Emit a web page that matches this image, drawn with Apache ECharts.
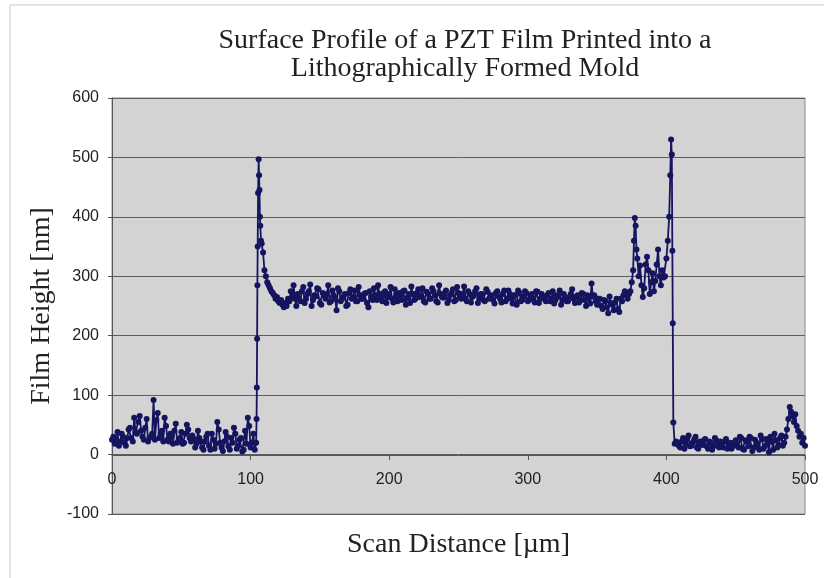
<!DOCTYPE html>
<html>
<head>
<meta charset="utf-8">
<script src="https://cdn.jsdelivr.net/npm/echarts@6/dist/echarts.min.js"></script>
<style>
html,body{margin:0;padding:0;background:#fff;}
#chart{width:824px;height:578px;}
</style>
</head>
<body>
<div id="chart"></div>
<script>
// ---- Data (Scan Distance [µm], Film Height [nm]) ----
const leftX = [0,2,4,6,8,10,12,14,16,18,20,22,24,26,28,30,32,34,36,38,40,42,44,46,48,50,52,54,56,58,60,62,64,66,68,70,72,74,76,78,80,82,84,86,88,90,92,94,96,98,100,102,103,104];
const leftY = [25,18,38,22,30,15,42,28,62,35,65,30,45,22,30,92,58,28,40,62,25,35,18,52,24,38,20,50,28,32,12,40,22,8,30,15,35,10,55,20,6,38,14,28,45,10,25,5,40,62,12,35,8,20];
const leftOddX = [1,3,5,7,9,11,13,15,17,19,21,23,25,27,29,31,33,35,37,39,41,43,45,47,49,51,53,55,57,59,61,63,65,67,69,71,73,75,77,79,81,83,85,87,89,91,93,95,97,99,101];
const leftOddY = [30,22,15,35,20,28,45,22,38,55,40,25,60,28,35,25,70,35,22,48,22,30,40,20,28,18,35,42,22,26,18,28,12,22,35,8,25,18,42,12,22,30,8,20,35,15,28,8,18,48,20];

const edgeX = [104.3,104.5,104.7,104.9,105.1,105.4,105.8,106.1,106.4,106.7,107,107.5,108,109,110,111,112,113,114,115,116,117,118,119,120,121,122,123,124,125,126,127,128,129,130,131];
const edgeY = [60,113,195,285,350,440,497,470,445,400,385,360,355,340,310,300,290,285,280,275,272,268,262,265,258,255,260,252,248,255,250,262,258,275,265,285,262];

const plateauX = [132,134,136,138,140,142,144,146,148,150,152,154,156,158,160,162,164,166,168,170,172,174,176,178,180,182,184,186,188,190,192,194,196,198,200,202,204,206,208,210,212,214,216,218,220,222,224,226,228,230,232,234,236,238,240,242,244,246,248,250,252,254,256,258,260,262,264,266,268,270,272,274,276,278,280,282,284,286,288,290,292,294,296,298,300,302,304,306,308,310,312,314,316,318,320,322,324,326,328,330,332,334,336,338,340,342,344,346,348,350,352,354,356,358,360,362,364,366,368,370];
const plateauY = [270,258,282,262,275,250,268,280,255,272,262,285,258,268,243,275,262,270,252,278,265,258,282,262,270,255,275,260,268,285,262,272,255,270,262,278,258,268,275,252,270,283,260,272,265,280,256,270,262,275,258,285,265,272,255,268,278,260,272,262,283,258,270,265,275,255,270,260,278,262,268,254,275,262,270,258,276,262,268,252,272,260,275,258,268,262,275,255,270,262,268,258,275,260,266,252,270,258,265,278,255,268,260,270,250,263,288,268,252,262,245,258,238,255,243,262,240,258,275,250];
const plateauOddX = [133,135,137,139,141,143,145,147,149,151,153,155,157,159,161,163,165,167,169,171,173,175,177,179,181,183,185,187,189,191,193,195,197,199,201,203,205,207,209,211,213,215,217,219,221,223,225,227,229,231,233,235,237,239,241,243,245,247,249,251,253,255,257,259,261,263,265,267,269,271,273,275,277,279,281,283,285,287,289,291,293,295,297,299,301,303,305,307,309,311,313,315,317,319,321,323,325,327,329,331,333,335,337,339,341,343,345,347,349,351,353,355,357,359,361,363,365,367,369];
const plateauOddY = [262,275,255,270,286,260,266,278,252,268,270,256,276,262,280,258,266,250,272,262,276,258,268,262,272,248,266,280,260,270,258,275,265,282,256,266,272,260,276,264,255,270,262,278,266,258,274,262,280,268,256,270,264,276,260,272,258,282,266,270,262,275,256,268,280,262,270,258,274,264,260,272,266,256,276,262,270,254,268,276,258,266,272,260,270,256,274,262,266,258,272,262,254,268,276,260,264,258,270,262,266,256,272,260,268,254,266,258,262,250,260,248,266,252,256,245,262,268,272];

const ridgeX = [371,372,373,374,375,376,376.6,377.2,377.8,378.4,379,380,381,382,383,384,385,386,387,388,389,390,391,392,393,394,395,396,397,398,399,400,401,402,402.8,403.4,403.9,404.3,404.6,405];
const ridgeY = [262,270,275,290,310,360,398,385,345,330,300,318,285,265,280,320,333,310,270,290,305,275,292,320,345,300,285,310,298,300,330,360,400,470,530,505,343,221,54,18];

const rightX = [406,408,410,412,414,416,418,420,422,424,426,428,430,432,434,436,438,440,442,444,446,448,450,452,454,456,458,460,462,464,466,468,470,472,474,476,478,480,482,484,486,487,488,489,490,491,492,493,494,495,496,497,498,499,500];
const rightY = [20,12,28,18,32,15,25,12,22,16,26,10,20,14,24,12,18,22,10,20,14,24,12,28,8,22,30,6,25,12,32,10,26,4,22,35,12,28,15,30,42,60,80,72,65,55,68,48,40,30,35,20,28,15,22];
const rightOddX = [407,409,411,413,415,417,419,421,423,425,427,429,431,433,435,437,439,441,443,445,447,449,451,453,455,457,459,461,463,465,467,469,471,473,475,477,479,481,483,485];
const rightOddY = [15,22,10,26,14,20,30,10,18,24,14,22,8,28,16,22,12,26,18,10,20,16,30,10,24,14,28,12,20,8,26,14,22,30,8,24,16,32,20,26];

const xTicks = [0,100,200,300,400,500];
const yTicks = [-100,0,100,200,300,400,500,600];

const xs = [].concat(leftX, leftOddX, edgeX, plateauX, plateauOddX, ridgeX, rightX, rightOddX);
const ys = [].concat(leftY, leftOddY, edgeY, plateauY, plateauOddY, ridgeY, rightY, rightOddY);
const points = xs.map((x, i) => [x, ys[i]]).sort((a, b) => a[0] - b[0]);

const chart = echarts.init(document.getElementById('chart'), null, {renderer: 'canvas'});
const serif = '"Liberation Serif", "Times New Roman", serif';
const sans = '"Liberation Sans", Arial, sans-serif';

chart.setOption({
  animation: false,
  backgroundColor: '#ffffff',
  title: {
    text: 'Surface Profile of a PZT Film Printed into a\nLithographically Formed Mold',
    left: 460, top: 22, textAlign: 'center',
    textStyle: {fontFamily: serif, fontSize: 28, fontWeight: 'normal', color: '#222', lineHeight: 28}
  },
  graphic: [
    {type: 'line', shape: {x1: 10, y1: 5, x2: 10, y2: 578}, style: {stroke: '#c8c8c8', lineWidth: 1}},
    {type: 'line', shape: {x1: 10, y1: 5, x2: 824, y2: 5}, style: {stroke: '#c8c8c8', lineWidth: 1}}
  ],
  grid: {
    left: 112, right: 19, top: 98, bottom: 64,
    outerBoundsMode: 'none', containLabel: false,
    show: true, backgroundColor: '#d3d3d3', borderColor: '#8a8a8a', borderWidth: 1
  },
  xAxis: {
    type: 'value', min: xTicks[0], max: xTicks[xTicks.length - 1], interval: 100,
    position: 'bottom', offset: -59,
    name: 'Scan Distance [µm]', nameLocation: 'middle', nameGap: 76,
    nameTextStyle: {fontFamily: serif, fontSize: 28, color: '#222'},
    axisLine: {show: true, onZero: false, lineStyle: {color: '#555', width: 1}},
    axisTick: {show: true, inside: false, length: 5, lineStyle: {color: '#555'}},
    axisLabel: {fontFamily: sans, fontSize: 16, color: '#222', margin: 17},
    splitLine: {show: false}
  },
  yAxis: {
    type: 'value', min: yTicks[0], max: yTicks[yTicks.length - 1], interval: 100,
    name: 'Film Height [nm]', nameLocation: 'middle', nameGap: 43, nameRotate: 90,
    nameTextStyle: {fontFamily: serif, fontSize: 28, color: '#222'},
    axisLine: {show: true, lineStyle: {color: '#555', width: 1}},
    axisTick: {show: true, length: 4, lineStyle: {color: '#555'}},
    axisLabel: {fontFamily: sans, fontSize: 16, color: '#222', margin: 13},
    splitLine: {show: true, lineStyle: {color: '#5e5e5e', width: 1}}
  },
  series: [{
    type: 'line',
    data: points,
    symbol: 'circle',
    symbolSize: 6,
    showSymbol: true,
    itemStyle: {color: '#14145f'},
    lineStyle: {color: '#14145f', width: 1.8},
    z: 3
  }]
});
</script>
</body>
</html>
